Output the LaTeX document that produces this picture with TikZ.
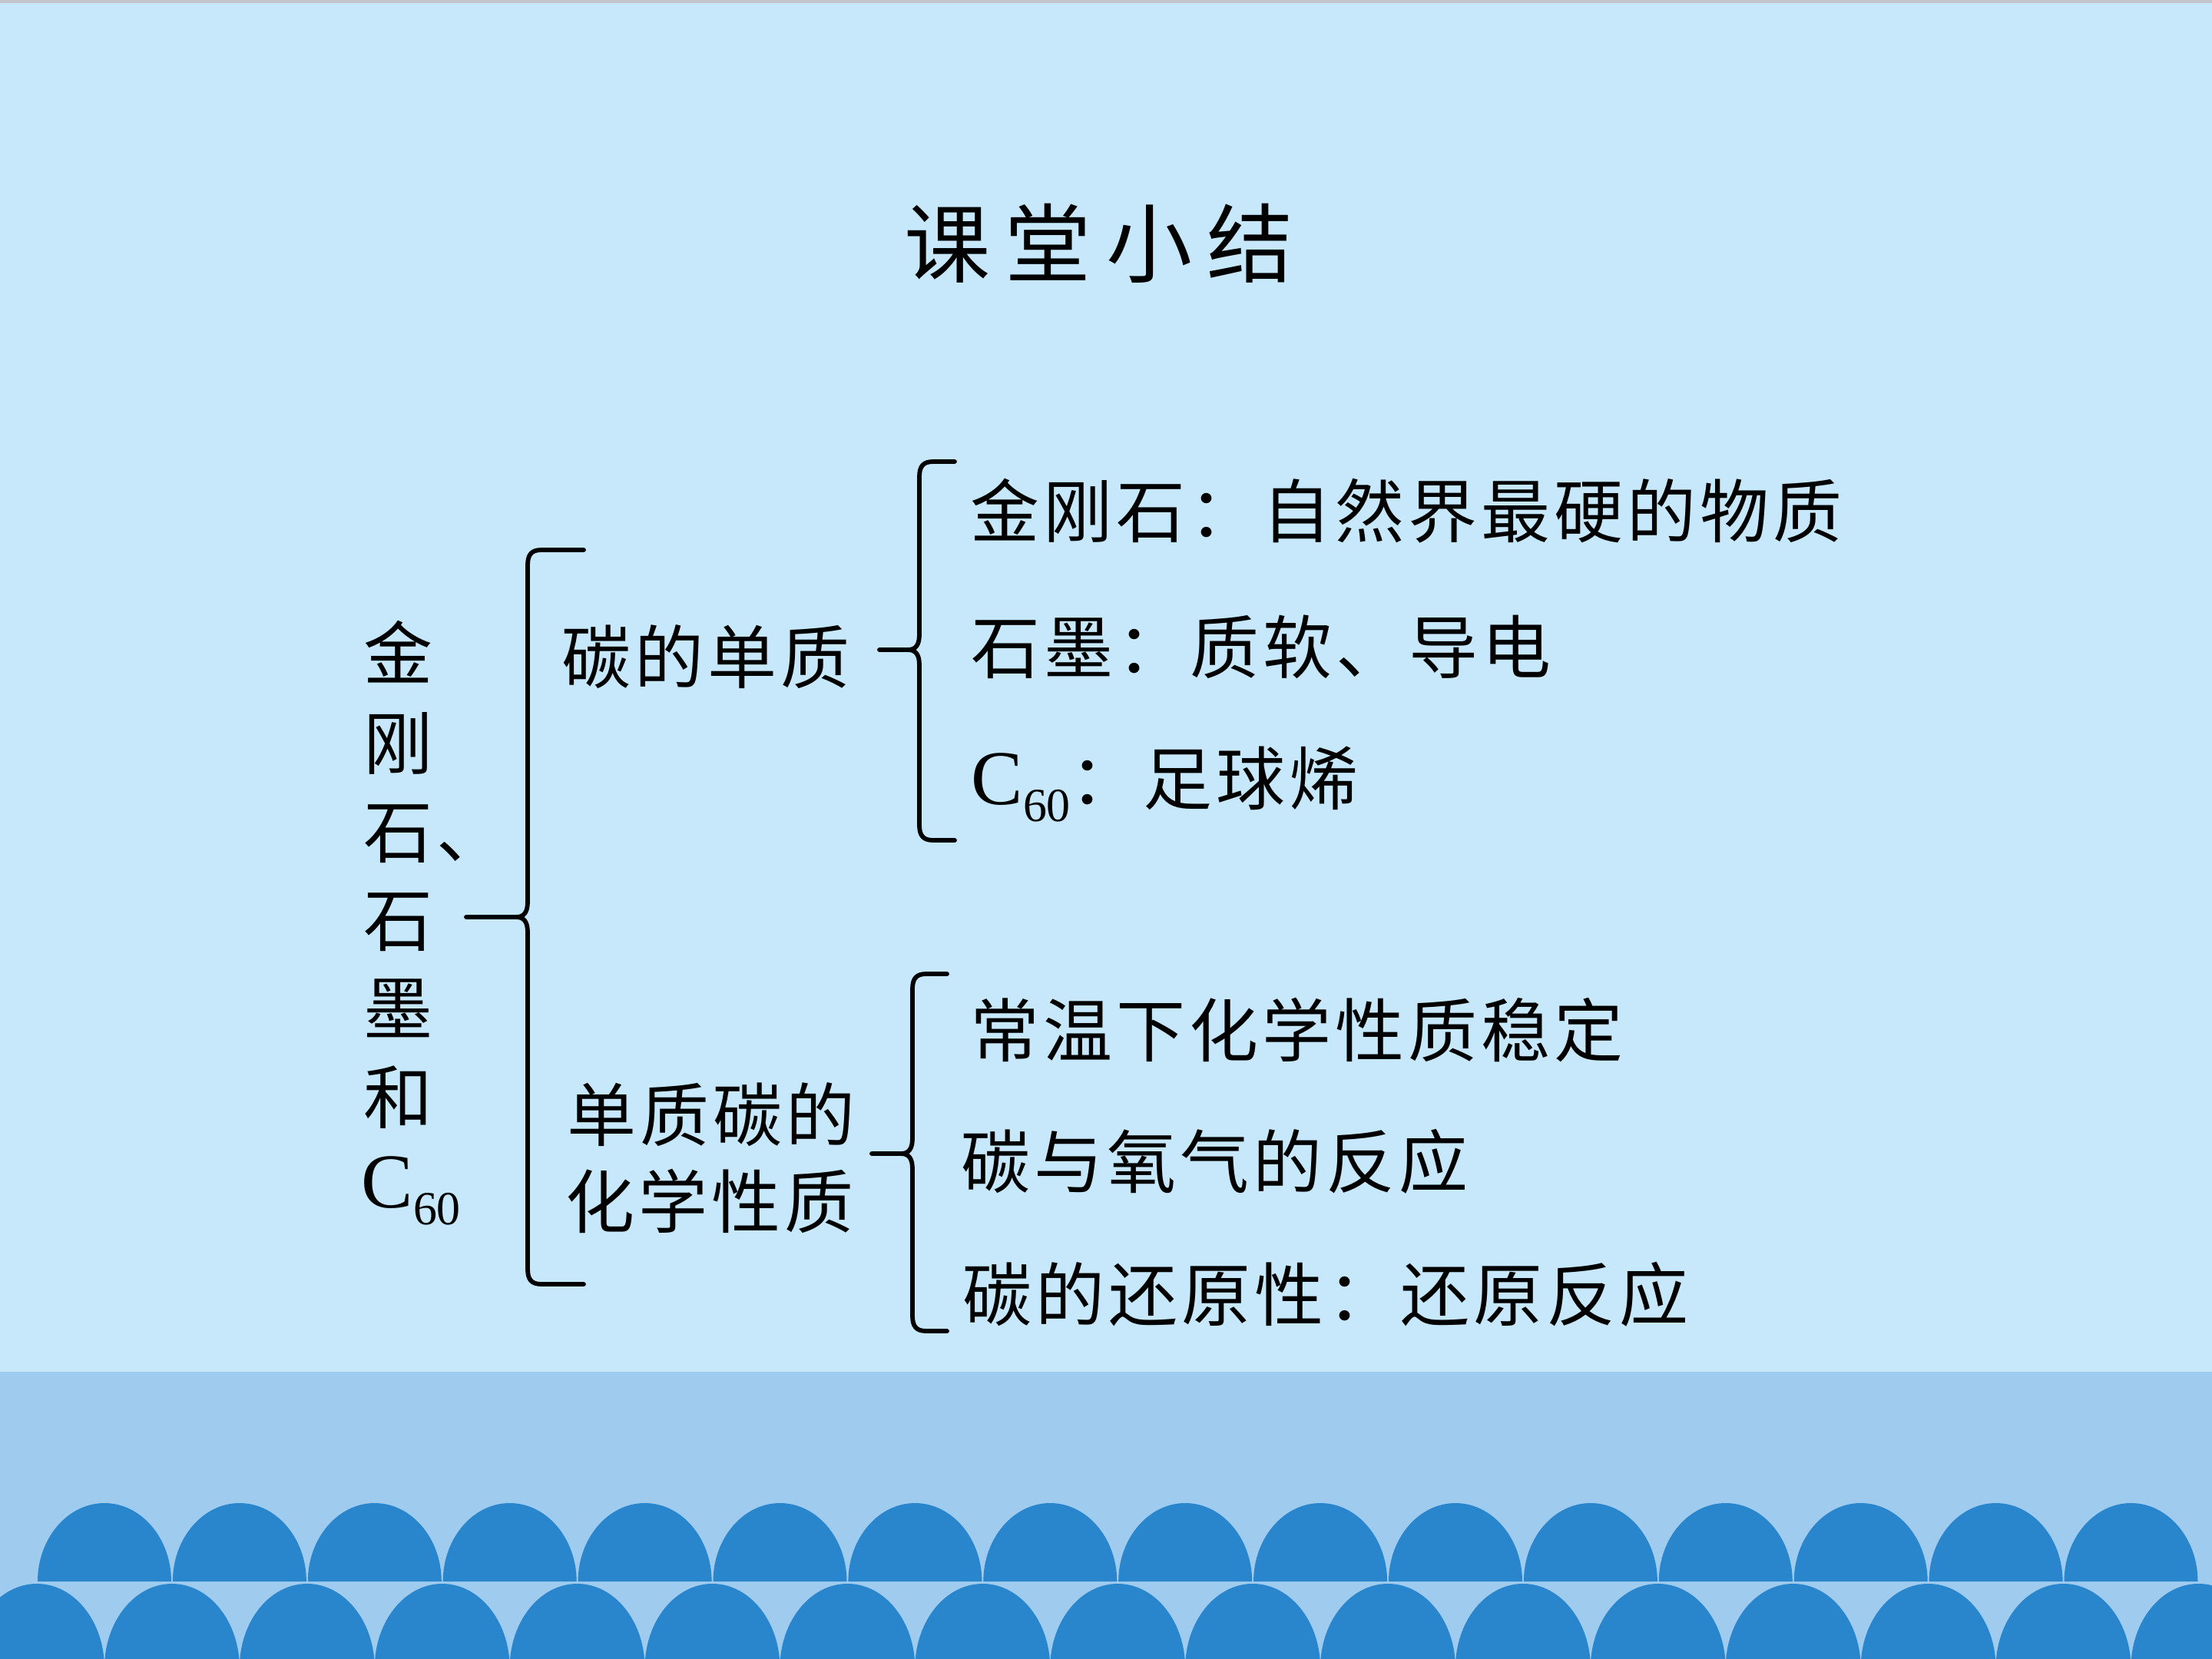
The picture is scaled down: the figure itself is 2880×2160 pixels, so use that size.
\documentclass[tikz,border=0pt]{standalone}
\usepackage{fontspec}
\setmainfont{Noto Sans CJK SC}[LetterSpace=5.5]
\newfontfamily\titlefont{Noto Sans CJK SC}[LetterSpace=17]
\newfontfamily\latinfont{Liberation Serif}
\newcommand\Csixty{{\latinfont\fontsize{28.7pt}{30pt}\selectfont C\raisebox{-6.4pt}{\fontsize{17.6pt}{20pt}\selectfont 60}}}
\definecolor{bgtop}{HTML}{C6E8FA}
\definecolor{band}{HTML}{9FCBEF}
\definecolor{wave}{HTML}{2A86CC}
\definecolor{greyline}{HTML}{C2C6CA}
\tikzset{
  txt/.style={inner sep=0pt, anchor=base west, font=\fontsize{25.6pt}{30pt}\selectfont},
  ttl/.style={inner sep=0pt, anchor=base west, font=\titlefont\fontsize{31.9pt}{36pt}\selectfont},
  brace/.style={line width=1.65pt, line join=round, line cap=round},
}
\newcommand\mybrace[6]{%
  \draw[brace] (#4,#2) -- (#1+18,#2) .. controls (#1+5,#2) and (#1,#2+6) .. (#1,#2+20)
     -- (#1,#6-20) .. controls (#1,#6-6) and (#1-5,#6) .. (#1-15,#6) -- (#5,#6);
  \draw[brace] (#1-15,#6) .. controls (#1-5,#6) and (#1,#6+6) .. (#1,#6+20)
     -- (#1,#3-20) .. controls (#1,#3-6) and (#1+5,#3) .. (#1+18,#3) -- (#4,#3);
}
\begin{document}
\begin{tikzpicture}[x=0.01cm,y=-0.01cm]
\useasboundingbox (0,0) rectangle (2880,2160);
% background
\fill[bgtop] (0,0) rectangle (2880,2160);
\fill[greyline] (0,0) rectangle (2880,4);
\fill[band] (0,1786) rectangle (2880,2160);
\begin{scope}
  \clip (0,0) rectangle (2880,2160);
  \foreach \i in {0,...,16} {
    \pgfmathsetmacro\cx{48+175.9*\i}
    \fill[wave] (\cx-88,2172) .. controls (\cx-88,2111) and (\cx-48.6,2062) .. (\cx,2062)
      .. controls (\cx+48.6,2062) and (\cx+88,2111) .. (\cx+88,2172) -- cycle;
  }
  \foreach \i in {0,...,15} {
    \pgfmathsetmacro\cx{136+175.9*\i}
    \fill[wave] (\cx-87,2059) .. controls (\cx-87,2003) and (\cx-48,1957) .. (\cx,1957)
      .. controls (\cx+48,1957) and (\cx+87,2003) .. (\cx+87,2059) -- cycle;
  }
\end{scope}
% title
\node[ttl] (title) at (1177,359) {课堂小结};
% left column
\node[txt] (l1) at (473,884) {金};
\node[txt] (l2) at (473,1001) {刚};
\node[txt] (l3) at (473,1116) {石、};
\node[txt] (l4) at (473,1231) {石};
\node[txt] (l5) at (473,1346) {墨};
\node[txt] (l6) at (473,1462) {和};
\node[txt] (l7) at (470,1572) {\Csixty};
% braces
\mybrace{687}{716}{1672}{760}{607}{1194}
\mybrace{1197}{601}{1094}{1243}{1145}{846}
\mybrace{1188}{1268}{1733}{1233}{1135}{1502}
% middle
\node[txt] (m1) at (731,889) {碳的单质};
\node[txt] (m2) at (738,1485) {单质碳的};
\node[txt] (m3) at (736,1598) {化学性质};
% right
\node[txt] (r1) at (1263,699) {金刚石：自然界最硬的物质};
\node[txt] (r2) at (1264,876) {石墨：质软、导电};
\node[txt] (r3) at (1264,1047) {\Csixty：足球烯};
\node[txt] (r4) at (1263,1375) {常温下化学性质稳定};
\node[txt] (r5) at (1251,1546) {碳与氧气的反应};
\node[txt] (r6) at (1253,1719) {碳的还原性：还原反应};
\end{tikzpicture}
\end{document}
